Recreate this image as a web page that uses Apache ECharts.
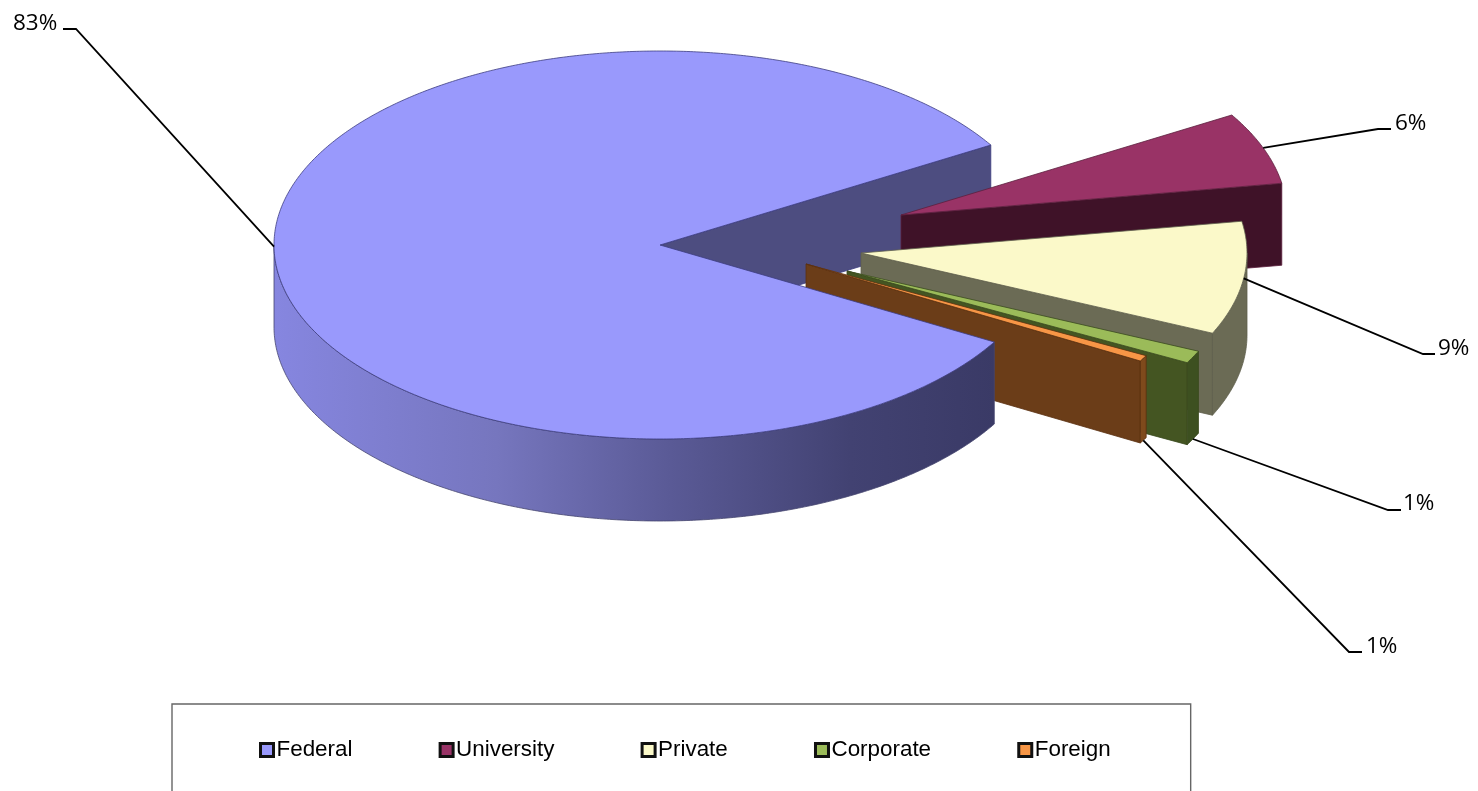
<!DOCTYPE html>
<html>
<head>
<meta charset="utf-8">
<script src="https://cdn.jsdelivr.net/npm/echarts@6/dist/echarts.min.js"></script>
<style>html,body{margin:0;padding:0;background:#fff;overflow:hidden}#c{width:1478px;height:791px}</style>
</head>
<body>
<div id="c"></div>
<script>
// ---- data ----
const categories = ['Federal', 'University', 'Private', 'Corporate', 'Foreign'];
const shares = [83.05, 6, 9.4, 1.05, 0.5];
// ---- styles and layout (separate from data) ----
const topColors = ['#9999FC', '#993366', '#FBF9C9', '#9BBB59', '#F79646'];
const faceColors = ['#4D4D80', '#3F1228', '#6B6B55', '#445522', '#6B3D18'];
const wallColors = [null, '#3F1228', '#6B6B55', '#3D5020', '#7F4A1C'];
const edgeColors = ['#3C3C80', '#5C1F3D', '#5F5F4C', '#3A4A1E', '#5A3010'];
const apexX = [660, 901, 861, 847, 806];
const apexY = [245, 215, 253, 271, 264];
const RX = 386, RY = 194, DEPTH = 82, START_DEG = 30;
const labelAnchors = [[13, 23.5], [1395, 123.5], [1438, 348.5], [1403, 503.5], [1366, 646.5]];
const elbowStart = [[76, 29], [1378, 129], [1423, 354], [1388, 510], [1349, 652]];
const elbowEnd = [[63, 29], [1391, 129], [1435, 354], [1401, 510], [1362, 652]];
const order = [1, 2, 3, 4, 0];   // back to front

const total = shares.reduce((a, b) => a + b, 0);
const rad = d => d * Math.PI / 180;
function ranges() {
  let a = START_DEG; const out = [];
  shares.forEach(v => { const s = a; a += v / total * 360; out.push([s, a]); });
  return out;
}
const angleRanges = ranges();
function rim(i, deg, drop) {
  return [apexX[i] + RX * Math.cos(rad(deg)), apexY[i] + RY * Math.sin(rad(deg)) + (drop || 0)];
}
function arcPoints(i, from, to, drop) {
  const pts = []; const n = Math.max(2, Math.ceil(Math.abs(to - from) * 2));
  for (let k = 0; k <= n; k++) pts.push(rim(i, from + (to - from) * k / n, drop));
  return pts;
}
function poly(points, fill, stroke, z2, width) {
  return { type: 'polygon', z2, silent: true, shape: { points },
    style: { fill, stroke, lineWidth: width === undefined ? 0.8 : width, lineJoin: 'round' } };
}
function renderSlice(i) {
  const [a0, a1] = angleRanges[i];
  const layer = 10 + order.indexOf(i) * 10;
  const apex = [apexX[i], apexY[i]];
  const apexLow = [apexX[i], apexY[i] + DEPTH];
  const kids = [];
  if (i === 0) {
    // back radial face, lying behind every other slice
    kids.push(poly([apex, rim(0, a1), rim(0, a1, DEPTH), apexLow], faceColors[0], edgeColors[0], 1));
    // outer wall, front half
    const wallTop = arcPoints(0, a0, 180);
    const wallLow = arcPoints(0, 180, a0, DEPTH);
    kids.push(poly(wallTop.concat(wallLow), new echarts.graphic.LinearGradient(0, 0, 1, 0, [
      { offset: 0, color: '#8686E0' }, { offset: 0.31, color: '#7676BE' },
      { offset: 0.55, color: '#5A5A96' }, { offset: 0.8, color: '#424272' }, { offset: 1, color: '#3A3A66' }
    ]), '#45456E', layer));
  } else {
    // end radial face
    kids.push(poly([apex, rim(i, a1), rim(i, a1, DEPTH), apexLow], faceColors[i], edgeColors[i], layer));
    // outer wall where the rim faces the viewer (angles past a full turn)
    const w0 = Math.max(a0, 360);
    if (a1 > w0) {
      kids.push(poly(arcPoints(i, w0, a1).concat(arcPoints(i, a1, w0, DEPTH)), wallColors[i], edgeColors[i], layer + 1));
    }
  }
  const top = [apex].concat(arcPoints(i, a0, a1));
  kids.push(poly(top, topColors[i], edgeColors[i], layer + 2));
  // leader
  const mid = (a0 + a1) / 2;
  const drop = Math.sin(rad(mid)) > 0.3 ? DEPTH : 0;
  const anchor = rim(i, mid, drop);
  kids.push({ type: 'polyline', z2: 200, silent: true,
    shape: { points: [anchor, elbowStart[i], elbowEnd[i]] },
    style: { stroke: '#000', lineWidth: 1.8, fill: null } });
  kids.push({ type: 'text', z2: 201, silent: true,
    style: { x: labelAnchors[i][0], y: labelAnchors[i][1], text: Math.round(shares[i]) + '%',
      fill: '#000', font: '22.5px "Open Sans", sans-serif', textAlign: 'left', textVerticalAlign: 'middle' } });
  return { type: 'group', children: kids };
}
const series = categories.map((name, i) => ({
  name, type: 'custom', coordinateSystem: 'none', silent: true, animation: false,
  clip: false,
  itemStyle: { color: topColors[i] },
  data: [[shares[i]]],
  renderItem: () => renderSlice(i)
}));
const chart = echarts.init(document.getElementById('c'), null, { renderer: 'canvas' });
chart.setOption({
  animation: false,
  backgroundColor: '#fff',
  legend: {
    left: 172, top: 704, orient: 'horizontal', selectedMode: false,
    padding: [35, 80, 60, 87], itemGap: 86.2, itemWidth: 13, itemHeight: 13,
    borderColor: '#666', borderWidth: 1.4,
    icon: 'rect',
    textStyle: { fontFamily: '"Liberation Sans", Arial, sans-serif', fontSize: 22.4, color: '#000', padding: [0, 0, 0, -2] },
    data: categories.map((name, i) => ({ name, itemStyle: { color: topColors[i], borderColor: '#111', borderWidth: 3 } }))
  },
  series
});
</script>
</body>
</html>
